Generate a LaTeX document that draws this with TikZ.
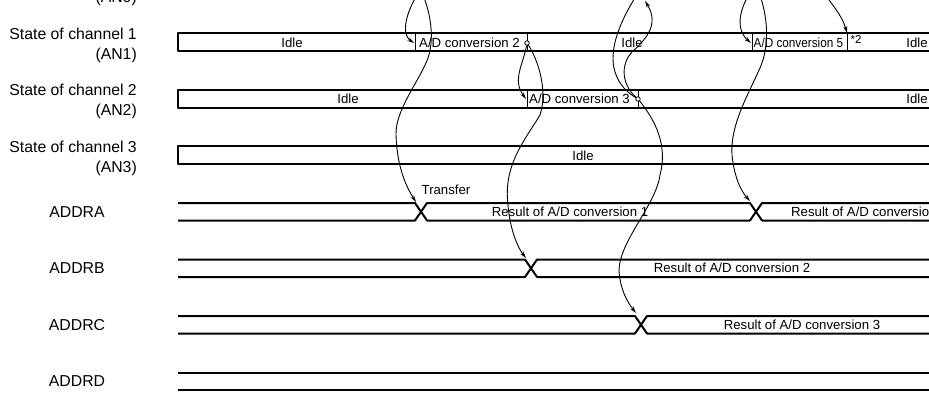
\documentclass[tikz,border=0pt]{standalone}
\usepackage{graphicx}
\usepackage{fontspec}
\setmainfont{Liberation Sans}
\usetikzlibrary{arrows.meta}
\begin{document}
\begin{tikzpicture}[x=1pt,y=-1pt,
  lbl/.style={font=\fontsize{15.8}{18}\selectfont, anchor=east, inner sep=0pt, text height=11.3pt, text depth=0pt},
  reg/.style={font=\fontsize{15.8}{18}\selectfont, inner sep=0pt, text height=11.3pt, text depth=0pt},
  txt/.style={font=\fontsize{13.2}{15}\selectfont, inner sep=0pt, text height=9.5pt, text depth=0pt},
  frame/.style={line width=2pt, line join=round},
  divline/.style={line width=0.9pt},
  conn/.style={line width=0.9pt, -{Stealth[length=7pt,width=4pt]}},
  plainc/.style={line width=0.9pt},
  dot/.style={circle, draw, line width=0.8pt, fill=white, inner sep=0pt, minimum size=4.5pt}
]
\useasboundingbox (0,0) rectangle (929,393);

% ---- left labels ----
\node[lbl] (l0b) at (137,-3) {(AN0)};
\node[lbl] (l1a) at (137,33.5) {State of channel 1};
\node[lbl] (l1b) at (137,53.5) {(AN1)};
\node[lbl] (l2a) at (137,90) {State of channel 2};
\node[lbl] (l2b) at (137,110) {(AN2)};
\node[lbl] (l3a) at (137,146.5) {State of channel 3};
\node[lbl] (l3b) at (137,166.5) {(AN3)};
\node[reg] (ra) at (77,211.7) {ADDRA};
\node[reg] (rb) at (77,268.2) {ADDRB};
\node[reg] (rc) at (77,324.7) {ADDRC};
\node[reg] (rd) at (77,381.2) {ADDRD};

% ---- channel boxes ----
\draw[frame] (935,33.5) -- (178,33.5) -- (178,51.5) -- (935,51.5);
\draw[frame] (935,90) -- (178,90) -- (178,108) -- (935,108);
\draw[frame] (935,146.5) -- (178,146.5) -- (178,164) -- (935,164);

\draw[divline] (415,33.5) -- (415,51.5);
\draw[divline] (527,33.5) -- (527,51.5);
\draw[divline] (752,33.5) -- (752,51.5);
\draw[divline] (847,33.5) -- (847,51.5);
\draw[divline] (527,90) -- (527,108);
\draw[divline] (638,90) -- (638,108);

% ---- register rows ----
\draw[frame] (178,203) -- (415,203) -- (427,220.5) -- (750,220.5) -- (762,203) -- (935,203);
\draw[frame] (178,220.5) -- (415,220.5) -- (427,203) -- (750,203) -- (762,220.5) -- (935,220.5);
\draw[frame] (178,259.5) -- (525,259.5) -- (537,277) -- (935,277);
\draw[frame] (178,277) -- (525,277) -- (537,259.5) -- (935,259.5);
\draw[frame] (178,316) -- (635,316) -- (647,333.5) -- (935,333.5);
\draw[frame] (178,333.5) -- (635,333.5) -- (647,316) -- (935,316);
\draw[frame] (178,372.5) -- (935,372.5);
\draw[frame] (178,390) -- (935,390);

% ---- texts in rows ----
\node[txt] (i1a) at (292,43) {Idle};
\node[txt, anchor=west] (cv2) at (419,43) {A/D conversion 2};
\node[txt] (i1b) at (632,43) {Idle};
\node[txt, anchor=west] (cv5) at (753.5,43) {\scalebox{0.89}[1]{A/D conversion 5}};
\node[font=\fontsize{11.5}{12}\selectfont, anchor=west, inner sep=0pt] (n2) at (850.5,39.5) {*2};
\node[txt] (i1c) at (917,43) {Idle};
\node[txt] (i2a) at (348,99) {Idle};
\node[txt, anchor=west] (cv3) at (529,99) {A/D conversion 3};
\node[txt] (i2b) at (917,99) {Idle};
\node[txt] (i3) at (583,155.3) {Idle};
\node[txt] (tr) at (446,190) {Transfer};
\node[txt] (r1) at (570,211.7) {Result of A/D conversion 1};
\node[txt, anchor=west] (r4) at (791,211.7) {Result of A/D conversio};
\node[txt] (r2) at (732,268.2) {Result of A/D conversion 2};
\node[txt] (r3) at (802,324.7) {Result of A/D conversion 3};

% ---- end-of-conversion dots ----
\node[dot] (e2) at (527,43) {};
\node[dot] (e3) at (638,99) {};

% ---- connector end points ----
\coordinate (t1) at (419,-8);
\coordinate (t2) at (421,-10);
\coordinate (t6) at (640,-10);
\coordinate (t7) at (752,-10);
\coordinate (t8) at (758,-10);
\coordinate (t9) at (822,-10);
\coordinate (a1) at (414,43);
\coordinate (a2) at (526,99);
\coordinate (a3) at (751,43);
\coordinate (a4) at (847,33);
\coordinate (u1) at (645,1);
\coordinate (x1) at (416,202);
\coordinate (x2) at (526,258);
\coordinate (x3) at (636,313);
\coordinate (x4) at (750,201);

% ---- connectors ----
\draw[conn] (t1) .. controls (404,15) and (402,35) .. (a1);
\draw[conn] (t2) .. controls (432,15) and (434,40) .. (428,58) .. controls (420,80) and (395,110) .. (396,135) .. controls (397,165) and (405,185) .. (x1);
\draw[conn] (e2) .. controls (523,65) and (512,80) .. (a2);
\draw[conn] (e2) .. controls (538,60) and (548,90) .. (540,115) .. controls (525,140) and (503,165) .. (508,205) .. controls (510,230) and (518,248) .. (x2);
\draw[conn] (e3) .. controls (622,85) and (620,65) .. (632,52) .. controls (645,40) and (660,25) .. (u1);
\draw[plainc] (t6) .. controls (620,20) and (608,50) .. (615,72) .. controls (619,85) and (628,93) .. (e3);
\draw[conn] (e3) .. controls (655,120) and (668,145) .. (660,175) .. controls (656,205) and (620,240) .. (619,270) .. controls (620,290) and (628,303) .. (x3);
\draw[conn] (t7) .. controls (738,10) and (736,30) .. (a3);
\draw[conn] (t8) .. controls (768,15) and (770,45) .. (760,68) .. controls (748,95) and (730,125) .. (732,155) .. controls (734,175) and (740,190) .. (x4);
\draw[conn] (t9) .. controls (832,5) and (842,15) .. (a4);
\end{tikzpicture}
\end{document}
